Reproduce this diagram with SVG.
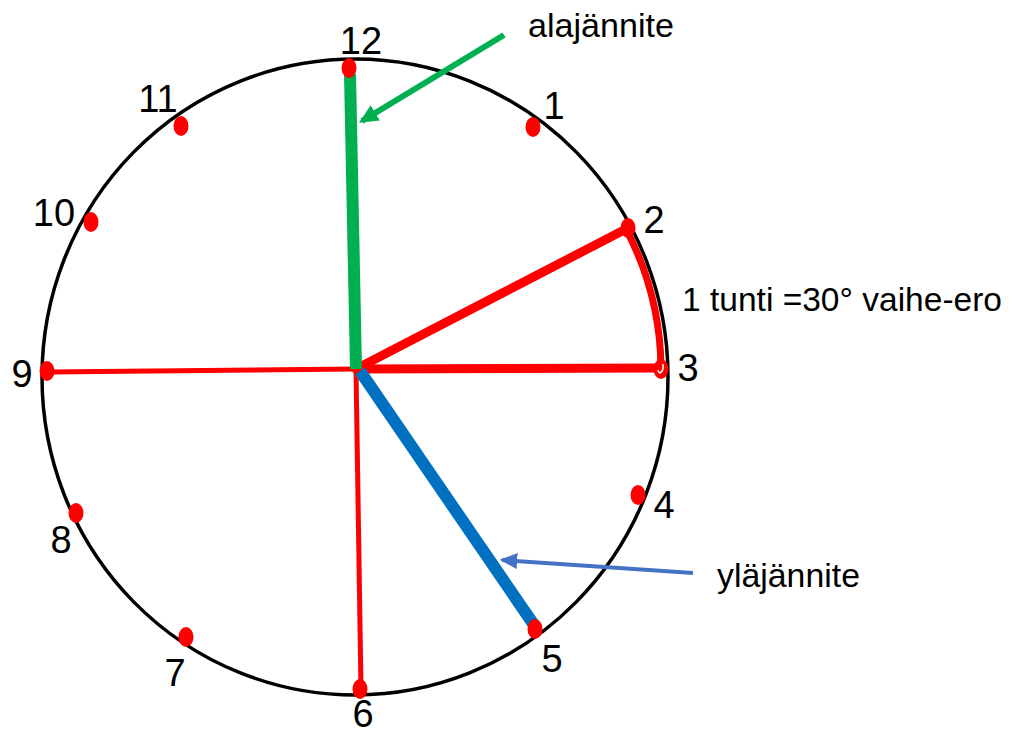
<svg xmlns="http://www.w3.org/2000/svg" width="1017" height="736" viewBox="0 0 1017 736">
<style>
text{font-family:"Liberation Sans",Arial,sans-serif;fill:#000}
.num{font-size:38px;text-anchor:middle}
.lbl{font-size:33px}
.dot{fill:#ff0000}
</style>
<defs>
<marker id="ahG" markerWidth="3.2" markerHeight="3" refX="2.6" refY="1.5" orient="auto" markerUnits="strokeWidth"><path d="M0,0 L3.2,1.5 L0,3 Z" fill="#00b050"/></marker>
<marker id="ahB" markerWidth="4.4" markerHeight="4" refX="3.8" refY="2" orient="auto" markerUnits="strokeWidth"><path d="M0,0 L4.4,2 L0,4 Z" fill="#4472c4"/></marker>
</defs>
<rect width="1017" height="736" fill="#fff"/>
<g id="clock-face">
<ellipse cx="355" cy="377" rx="313" ry="318" fill="none" stroke="#000" stroke-width="3.5"/>
</g>
<g id="connectors">
<line x1="356" y1="369" x2="48" y2="372" stroke="#ff0000" stroke-width="5"/>
<line x1="356" y1="369" x2="361" y2="689" stroke="#ff0000" stroke-width="5"/>
<line x1="356" y1="369" x2="626" y2="229" stroke="#ff0000" stroke-width="9" stroke-linecap="round"/>
<line x1="356" y1="369" x2="660" y2="368" stroke="#ff0000" stroke-width="9"/>
<path d="M626 229 A305 305 0 0 1 661 367" fill="none" stroke="#ff0000" stroke-width="7"/>
<line x1="350" y1="74" x2="356" y2="369" stroke="#00b050" stroke-width="12"/>
<line x1="360" y1="371" x2="534" y2="625" stroke="#0070c0" stroke-width="12"/>
<line x1="504" y1="35" x2="362" y2="121" stroke="#00b050" stroke-width="6" marker-end="url(#ahG)"/>
<line x1="693" y1="573" x2="502" y2="560" stroke="#4472c4" stroke-width="4" marker-end="url(#ahB)"/>
</g>
<g id="dots">
<ellipse class="dot" cx="349" cy="68" rx="7.5" ry="10"/>
<ellipse class="dot" cx="533" cy="127" rx="7.5" ry="10"/>
<ellipse class="dot" cx="628" cy="228" rx="7.5" ry="10"/>
<ellipse class="dot" cx="661" cy="369" rx="7.5" ry="10"/>
<path d="M663 364 Q664 371 660 373 Q658 372 658 370" fill="none" stroke="#fff" stroke-width="1.5"/>
<ellipse class="dot" cx="638" cy="495" rx="7.5" ry="10"/>
<ellipse class="dot" cx="535" cy="629" rx="7.5" ry="10"/>
<ellipse class="dot" cx="360" cy="689" rx="7.5" ry="10"/>
<ellipse class="dot" cx="186" cy="637" rx="7.5" ry="10"/>
<ellipse class="dot" cx="76" cy="513" rx="7.5" ry="10"/>
<ellipse class="dot" cx="47" cy="371" rx="7.5" ry="10"/>
<ellipse class="dot" cx="91" cy="222" rx="7.5" ry="10"/>
<ellipse class="dot" cx="181" cy="126" rx="7.5" ry="10"/>
</g>
<g id="numbers">
<text class="num" x="361" y="54">12</text>
<text class="num" x="554" y="119">1</text>
<text class="num" x="654" y="233">2</text>
<text class="num" x="688" y="381">3</text>
<text class="num" x="664" y="518">4</text>
<text class="num" x="552" y="672">5</text>
<text class="num" x="363" y="727">6</text>
<text class="num" x="175" y="686">7</text>
<text class="num" x="61" y="553">8</text>
<text class="num" x="22" y="387">9</text>
<text class="num" x="54" y="226">10</text>
<text class="num" x="158" y="112">11</text>
</g>
<g id="labels">
<text class="lbl" x="528" y="37" textLength="146" lengthAdjust="spacingAndGlyphs">alajännite</text>
<text class="lbl" x="717" y="587" textLength="143" lengthAdjust="spacingAndGlyphs">yläjännite</text>
<text class="lbl" x="682" y="311" textLength="320" lengthAdjust="spacingAndGlyphs">1 tunti =30°  vaihe-ero</text>
</g>
</svg>
